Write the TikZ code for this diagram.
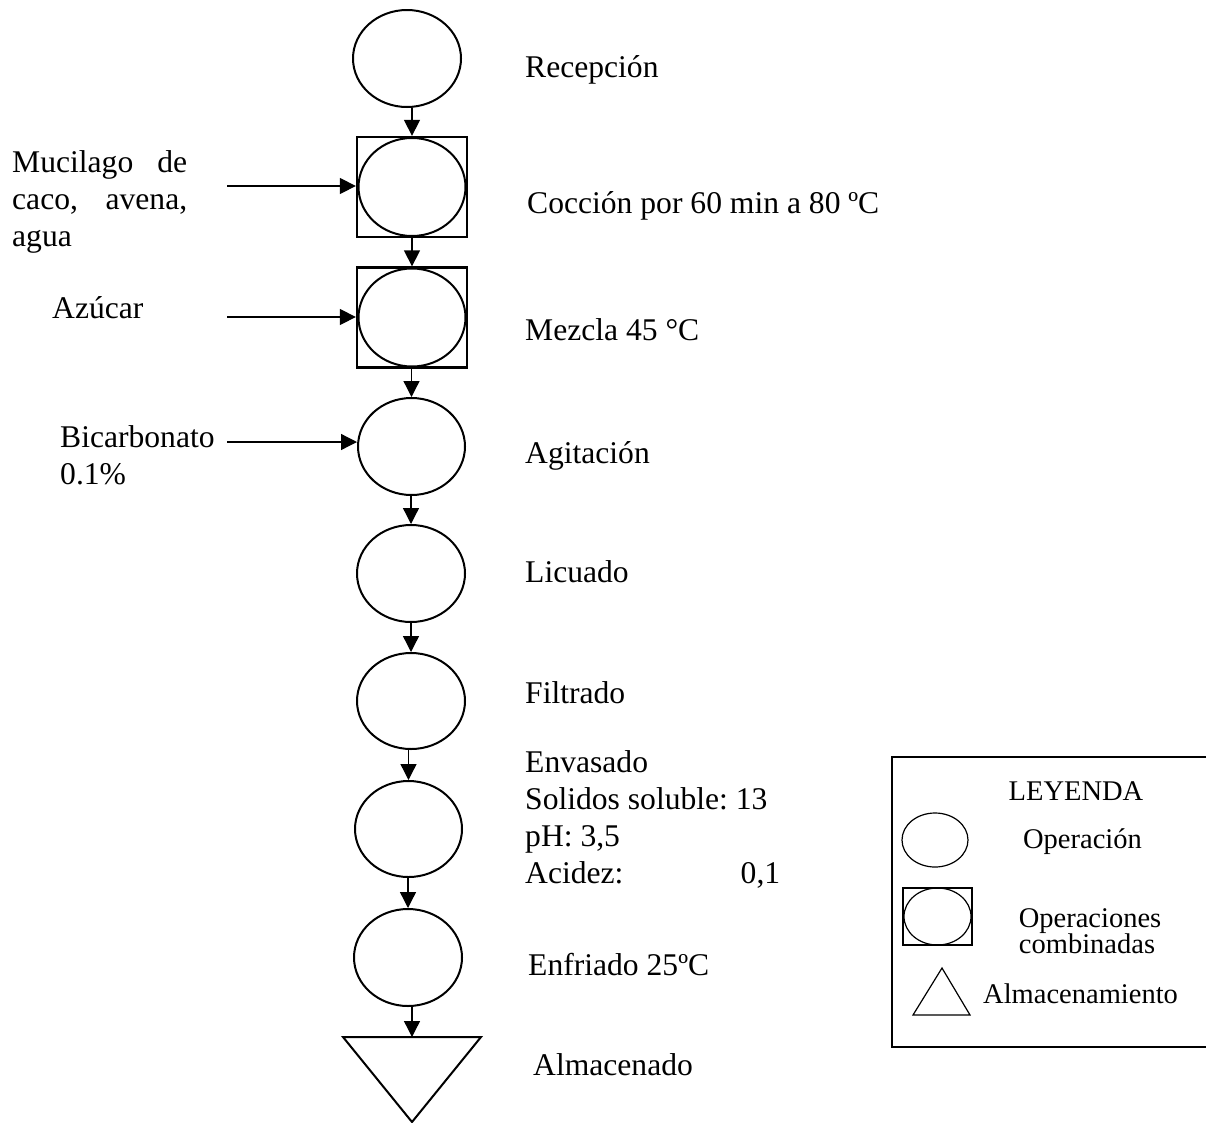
\documentclass[tikz,border=0pt]{standalone}
\usepackage{fontspec}
\setmainfont{Liberation Serif}
\usetikzlibrary{shapes.geometric,arrows.meta}
\frenchspacing
\begin{document}
\begin{tikzpicture}[x=1pt,y=-1pt,
  txt/.style={font=\fontsize{31.6}{37}\selectfont, inner sep=0pt, anchor=base west},
  lgtxt/.style={font=\fontsize{28.5}{26}\selectfont, inner sep=0pt, anchor=base},
  op/.style={ellipse, draw, line width=2pt, minimum width=108pt, minimum height=97pt, inner sep=0pt},
  comb/.style={rectangle, draw, line width=2.3pt, minimum width=110pt, minimum height=100pt, inner sep=0pt},
  flow/.style={line width=1.3pt, -{Triangle[length=16pt,width=16pt]}},
  lgop/.style={ellipse, draw, line width=1.2pt, inner sep=0pt},
]
\useasboundingbox (0,0) rectangle (1207,1122);

% main column
\node[op] (c1) at (407,58.5) {};
\node[comb] (b1) at (412,187) {};
\node[op, minimum width=107pt, minimum height=98pt] (b1e) at (412,187) {};
\node[comb] (b2) at (412,317.5) {};
\node[op, minimum width=107pt, minimum height=98pt] (b2e) at (412,317.5) {};
\node[op, minimum width=107pt] (c4) at (411.5,446.5) {};
\node[op] (c5) at (411,573.5) {};
\node[op, minimum height=96pt] (c6) at (411,701) {};
\node[op, minimum width=107pt, minimum height=96pt] (c7) at (408.5,829) {};
\node[op] (c8) at (408,957.5) {};
\coordinate (t) at (412,1037);
\coordinate (tl) at (343,1037);
\coordinate (tr) at (481,1037);
\coordinate (tb) at (412,1122);
\draw[line width=2pt, line join=miter] (tl) -- (tr) -- (tb) -- cycle;

% vertical connectors
\draw[flow] (b1.north |- c1.south) -- (b1.north);
\draw[flow] (b2.north |- b1.south) -- (b2.north);
\draw[flow] (c4.north |- b2.south) -- (c4.north);
\draw[flow] (c5.north |- c4.south) -- (c5.north);
\draw[flow] (c6.north |- c5.south) -- (c6.north);
\draw[flow] (c7.north |- c6.south) -- (c7.north);
\draw[flow] (c8.north |- c7.south) -- (c8.north);
\draw[flow] (t |- c8.south) -- (t);

% inputs
\coordinate (m1) at (227,186);
\coordinate (m2) at (227,317);
\coordinate (m3) at (227,442);
\draw[flow] (m1) -- (m1 -| b1.west);
\draw[flow] (m2) -- (m2 -| b2.west);
\draw[flow] (m3) -- (m3 -| c4.west);

\node[txt] (lmuc) at (12,172) {\vtop{\hbox to 175pt{Mucilago\hfill de}\hbox to 175pt{caco,\hfill avena,}\hbox{agua}}};
\node[txt] (laz) at (52,318) {Azúcar};
\node[txt] (lbic) at (60,447) {\vtop{\hbox{Bicarbonato}\hbox{0.1\%}}};

% step labels
\node[txt] (r1) at (525,77) {Recepción};
\node[txt] (r2) at (527,213) {Cocción por 60 min a 80 ºC};
\node[txt] (r3) at (525,340) {Mezcla 45 °C};
\node[txt] (r4) at (525,463) {Agitación};
\node[txt] (r5) at (525,582) {Licuado};
\node[txt] (r6) at (525,703) {Filtrado};
\node[txt] (r7) at (525,772) {\vtop{\hbox{Envasado}\hbox{Solidos soluble: 13}\hbox{pH: 3,5}\hbox to 255pt{Acidez:\hfill 0,1}}};
\node[txt] (r8) at (528,975) {Enfriado 25ºC};
\node[txt] (r9) at (533,1075) {Almacenado};

% legend
\draw[line width=1.5pt] (1206,757) -- (892,757) -- (892,1047) -- (1206,1047);
\node[lgtxt] (lg0) at (1076,800) {LEYENDA};
\node[lgop, minimum width=66pt, minimum height=54pt] (lg1) at (935,840) {};
\node[lgtxt] (lg1t) at (1082.5,848) {Operación};
\node[draw, line width=1.2pt, minimum width=69pt, minimum height=57pt, inner sep=0pt] (lg2) at (937.5,916.5) {};
\node[lgop, minimum width=67pt, minimum height=57pt] (lg2e) at (937.5,916.5) {};
\node[lgtxt] (lg2t) at (1090,927) {Operaciones};
\node[lgtxt] (lg2u) at (1087,953) {combinadas};
\coordinate (lt1) at (942,968);
\coordinate (lt2) at (913,1015);
\coordinate (lt3) at (970,1015);
\draw[line width=1.2pt] (lt1) -- (lt2) -- (lt3) -- cycle;
\node[lgtxt, anchor=base west] (lg3t) at (983,1003) {Almacenamiento};
\end{tikzpicture}
\end{document}
